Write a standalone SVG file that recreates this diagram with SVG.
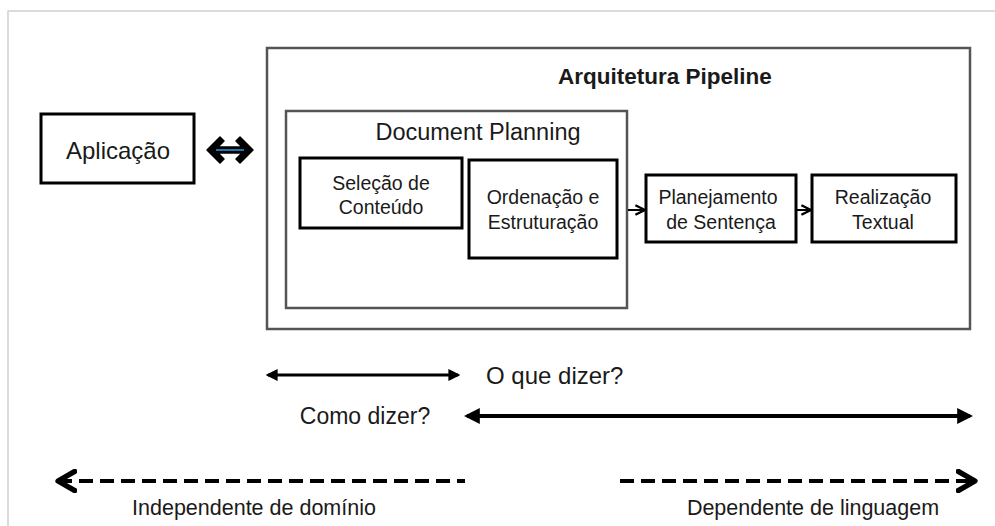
<svg xmlns="http://www.w3.org/2000/svg" width="995" height="526" viewBox="0 0 995 526">
<defs>
<style>
text{font-family:"Liberation Sans",Arial,sans-serif;fill:#1a1a1a;text-anchor:middle}
.box{fill:#fff;stroke:#000;stroke-width:3}
.grp{fill:#fff;stroke:#555;stroke-width:2.5}
.lbl{font-size:19.5px}
.cap{font-size:21.5px}
</style>
<marker id="ah" viewBox="0 0 10 10" refX="8" refY="5" markerWidth="4" markerHeight="4" orient="auto-start-reverse"><path d="M0,0 L10,5 L0,10 z" fill="#000"/></marker>
<marker id="sm" viewBox="0 0 10 10" refX="9" refY="5" markerWidth="6" markerHeight="6" orient="auto"><path d="M1,1 L9,5 L1,9" fill="none" stroke="#000" stroke-width="2"/></marker>
<marker id="big" viewBox="0 0 10 10" refX="8" refY="5" markerWidth="6" markerHeight="6" orient="auto-start-reverse"><path d="M1,1 L8,5 L1,9" fill="none" stroke="#000" stroke-width="2.2" stroke-linecap="round" stroke-linejoin="round"/></marker>
</defs>
<rect x="0" y="0" width="995" height="526" fill="#fff"/>
<path d="M8,526 V11 H995" fill="none" stroke="#d0d0d0" stroke-width="1.5"/>
<g id="pipeline"><rect class="grp" x="267" y="48" width="703" height="281"/><text x="665" y="84" style="font-size:22.5px;font-weight:bold">Arquitetura Pipeline</text></g>
<g id="docplanning"><rect class="grp" x="286" y="111" width="341" height="197"/><text x="478" y="140" style="font-size:23.5px">Document Planning</text></g>
<g id="aplicacao"><rect class="box" x="41" y="114" width="153" height="69"/><text x="118" y="159" style="font-size:24px">Aplicação</text></g>
<g id="selecao"><rect class="box" x="300" y="158" width="162" height="70"/><text class="lbl" x="381" y="190">Seleção de</text><text class="lbl" x="381" y="214">Conteúdo</text></g>
<g id="ordenacao"><rect class="box" x="469" y="160" width="148" height="98"/><text class="lbl" x="543" y="204">Ordenação e</text><text class="lbl" x="543" y="229">Estruturação</text></g>
<g id="planejamento"><rect class="box" x="646" y="175" width="150" height="67"/><text class="lbl" x="718" y="204">Planejamento</text><text class="lbl" x="721" y="229">de Sentença</text></g>
<g id="realizacao"><rect class="box" x="812" y="175" width="144" height="67"/><text class="lbl" x="883" y="204">Realização</text><text class="lbl" x="883" y="229">Textual</text></g>
<g id="connectors">
<path d="M207,150 L220,137 L224,141 L218,147 L242,147 L236,141 L240,137 L253,150 L240,163 L236,159 L242,153 L218,153 L224,159 L220,163 Z" fill="#000" stroke="#000" stroke-width="1.5" stroke-linejoin="round"/>
<line x1="216" y1="150" x2="244" y2="150" stroke="#1a7ab0" stroke-width="2"/>
<line x1="628" y1="210" x2="645" y2="210" stroke="#000" stroke-width="2" marker-end="url(#sm)"/>
<line x1="797" y1="210" x2="811" y2="210" stroke="#000" stroke-width="2" marker-end="url(#sm)"/>
<line x1="268" y1="375" x2="458" y2="375" stroke="#000" stroke-width="3" marker-start="url(#ah)" marker-end="url(#ah)"/>
<line x1="467" y1="416" x2="970" y2="416" stroke="#000" stroke-width="4" marker-start="url(#ah)" marker-end="url(#ah)"/>
<line x1="58" y1="481" x2="465" y2="481" stroke="#000" stroke-width="4" stroke-dasharray="14,7" marker-start="url(#big)"/>
<line x1="620" y1="481" x2="975" y2="481" stroke="#000" stroke-width="4" stroke-dasharray="14,7" marker-end="url(#big)"/>
</g>
<text x="486" y="384" style="text-anchor:start;font-size:24px">O que dizer?</text>
<text x="365" y="424" style="font-size:23px">Como dizer?</text>
<text class="cap" x="254" y="515">Independente de domínio</text>
<text class="cap" x="813" y="515">Dependente de linguagem</text>
</svg>
